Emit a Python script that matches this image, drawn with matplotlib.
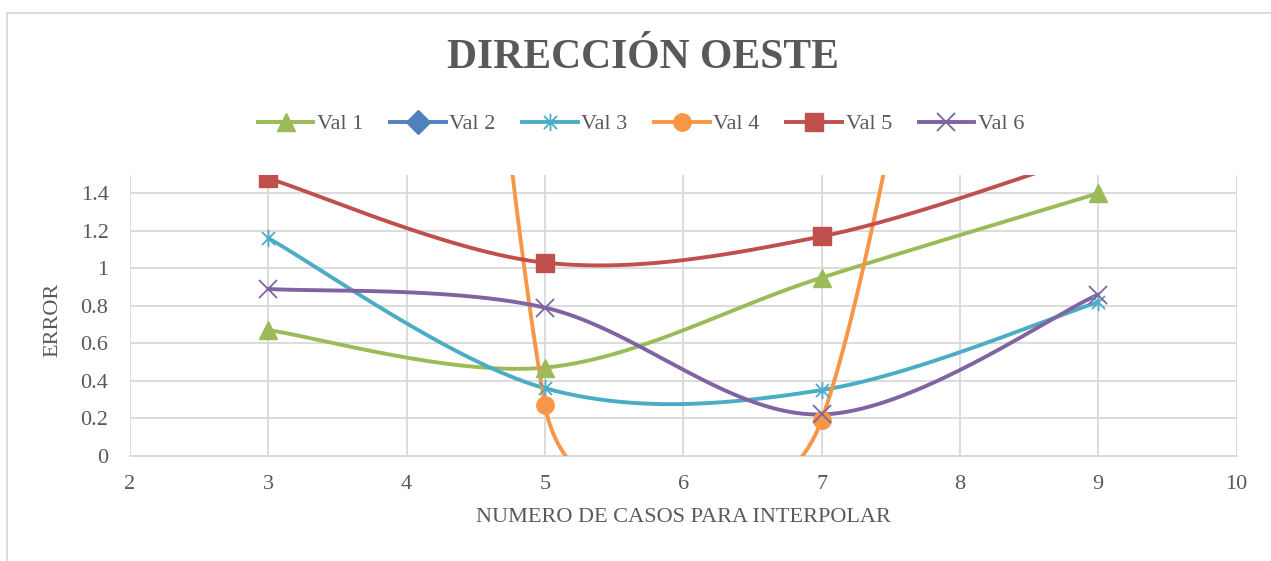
import matplotlib
matplotlib.use("Agg")
import matplotlib.pyplot as plt
from matplotlib.lines import Line2D
from matplotlib.path import Path
from matplotlib.patches import Rectangle
import numpy as np

# Datos del gráfico
casos = [3, 5, 7, 9]
val_1 = [0.67, 0.47, 0.95, 1.40]
val_2 = [np.nan, np.nan, np.nan, np.nan]   # no se ve en el gráfico
val_3 = [1.16, 0.36, 0.35, 0.82]
val_4 = [17.0, 0.27, 0.19, 8.5]            # x=3 y x=9 fuera del rango visible
val_5 = [1.48, 1.03, 1.17, 1.62]
val_6 = [0.89, 0.79, 0.22, 0.86]

nombres = ["Val 1", "Val 2", "Val 3", "Val 4", "Val 5", "Val 6"]
series = [val_1, val_2, val_3, val_4, val_5, val_6]
colores = ["#9BBB59", "#4F81BD", "#4BACC6", "#F79646", "#C0504D", "#8064A2"]

gris = "#595959"
rejilla = "#D9D9D9"

# marcador "estrella" de Excel: cruz en X con linea vertical
estrella = Path([(0, -1), (0, 1), (-0.75, -0.75), (0.75, 0.75), (-0.75, 0.75), (0.75, -0.75)],
                [Path.MOVETO, Path.LINETO] * 3)
marcadores = ["^", "D", estrella, "o", "s", "x"]


def suavizar_excel(ax, xs, ys, n=80):
    # Curva de Bezier parecida a la "linea suavizada" de Excel (en pixeles)
    pts = ax.transData.transform(np.column_stack([xs, ys]))
    curva = []
    for i in range(len(pts) - 1):
        p0 = pts[i - 1] if i > 0 else pts[i]
        p1 = pts[i]
        p2 = pts[i + 1]
        p3 = pts[i + 2] if i + 2 < len(pts) else pts[i + 1]
        d02 = np.linalg.norm(p2 - p0)
        d12 = np.linalg.norm(p2 - p1)
        d13 = np.linalg.norm(p3 - p1)
        f1 = d12 / d02 / 2 if d02 / 6 >= d12 / 2 else 1 / 6
        f2 = d12 / d13 / 2 if d13 / 6 >= d12 / 2 else 1 / 6
        c1 = p1 + f1 * (p2 - p0)
        c2 = p2 - f2 * (p3 - p1)
        t = np.linspace(0, 1, n)[:, None]
        seg = ((1 - t) ** 3) * p1 + 3 * ((1 - t) ** 2) * t * c1 + 3 * (1 - t) * t ** 2 * c2 + t ** 3 * p2
        curva.append(seg)
    curva = np.vstack(curva)
    return ax.transData.inverted().transform(curva)


plt.rcParams["font.family"] = ["Liberation Serif", "DejaVu Serif"]

fig = plt.figure(figsize=(12.71, 5.61), dpi=100)
ax = fig.add_axes([0.1023, 0.1877, 0.8706, 0.5011])
ax.set_xlim(2, 10)
ax.set_ylim(0, 1.5)

# marco gris del area del grafico
fig.patches.append(Rectangle((7 / 1271, -0.1), 1.2, 1 - 12.7 / 561 + 0.1, transform=fig.transFigure,
                             fill=False, edgecolor=rejilla, linewidth=1.3))

# lineas suavizadas y marcadores
for k, (nombre, ys, color, m) in enumerate(zip(nombres, series, colores, marcadores)):
    ys = np.array(ys, dtype=float)
    if np.all(np.isnan(ys)):
        continue
    curva = suavizar_excel(ax, casos, ys)
    ax.plot(curva[:, 0], curva[:, 1], color=color, linewidth=2.8, solid_capstyle="round", zorder=3 + k * 0.1)
    lw_m = 1.3 if m in ("x", estrella) else 1
    ax.plot(casos, ys, linestyle="none", marker=m, markersize=12.5, color=color,
            markeredgewidth=lw_m, zorder=5 + k * 0.1)

# ejes y rejilla
ax.set_xticks(range(2, 11))
ax.set_yticks([0, 0.2, 0.4, 0.6, 0.8, 1.0, 1.2, 1.4])
ax.set_yticklabels(["0", "0.2", "0.4", "0.6", "0.8", "1", "1.2", "1.4"])
ax.grid(True, color=rejilla, linewidth=1.3)
ax.set_axisbelow(True)
for lado in ["top", "right", "left"]:
    ax.spines[lado].set_visible(False)
ax.spines["bottom"].set_color(rejilla)
ax.spines["bottom"].set_linewidth(1.3)
ax.tick_params(axis="both", length=0, labelsize=16, labelcolor=gris)
ax.tick_params(axis="y", pad=15.5)
ax.tick_params(axis="x", pad=14)

ax.set_xlabel("NUMERO DE CASOS PARA INTERPOLAR", fontsize=16, color=gris)
ax.xaxis.label.set_va("center")
ax.xaxis.set_label_coords(0.5, -0.22)
ax.set_ylabel("ERROR", fontsize=16, color=gris)
ax.yaxis.label.set_va("center")
ax.yaxis.set_label_coords(-0.0696, 0.483)

# titulo
fig.text(643 / 1271, 1 - 58 / 561, "DIRECCIÓN OESTE", fontsize=30, fontweight="bold",
         color=gris, ha="center", va="center")

# leyenda
manejadores = []
for nombre, color, m in zip(nombres, colores, marcadores):
    lw_m = 1.3 if m in ("x", estrella) else 1
    manejadores.append(Line2D([], [], color=color, linewidth=2.8, marker=m, markersize=12.5,
                              markeredgewidth=lw_m, label=nombre))
fig.legend(handles=manejadores, loc="center", bbox_to_anchor=(641 / 1271, 1 - 124 / 561), ncol=6,
           frameon=False, fontsize=16, labelcolor=gris, handlelength=2.5, handletextpad=0.16,
           columnspacing=1.2)

fig.savefig("out.png", dpi=100)
